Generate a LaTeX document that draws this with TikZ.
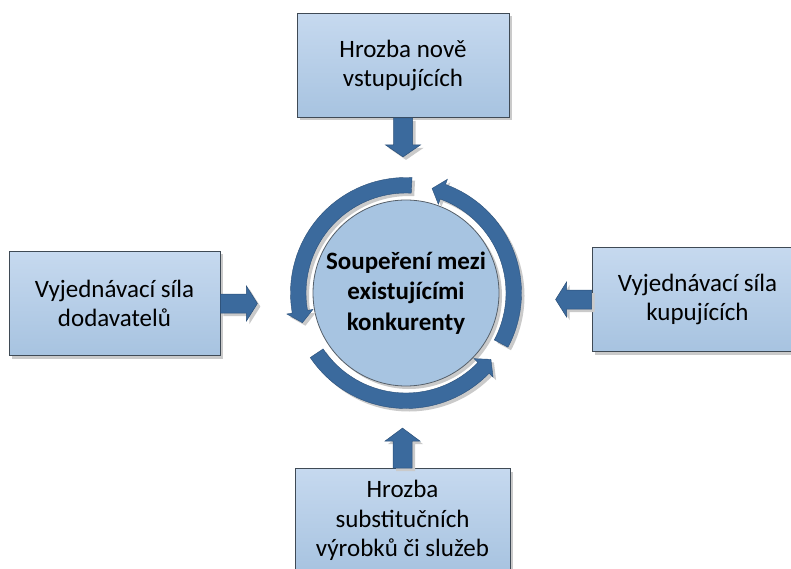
\documentclass[tikz,border=0pt]{standalone}
\usepackage{fontspec}
\setmainfont{Carlito}
\usetikzlibrary{shadows}
\definecolor{boxtop}{HTML}{C6D9EF}
\definecolor{boxbot}{HTML}{A7C3E0}
\definecolor{boxline}{HTML}{3F4A55}
\definecolor{arrowblue}{HTML}{3B6A9D}
\definecolor{arrowedge}{HTML}{2B5079}
\definecolor{circfill}{HTML}{A7C4E1}
\definecolor{circline}{HTML}{56606A}
\definecolor{shadowgray}{HTML}{CACACA}
\begin{document}
\begin{tikzpicture}[x=1pt,y=1pt,
  softshadow/.style={drop shadow={shadow xshift=3pt,shadow yshift=-3pt,fill=shadowgray,opacity=1}},
  box/.style={rectangle, draw=boxline, line width=0.8pt, top color=boxtop, bottom color=boxbot,
    minimum width=212pt, minimum height=104pt, inner sep=0pt, align=center,
    font=\fontsize{25}{29.5}\selectfont, text=black, softshadow},
  core/.style={circle, draw=circline, line width=0.8pt, fill=circfill, minimum size=186pt,
    inner sep=0pt, align=center, font=\fontsize{25}{30.5}\selectfont\bfseries, text=black, softshadow},
  blockarrow/.style={fill=arrowblue, draw=arrowedge, line width=0.5pt, softshadow},
  ringarrow/.style={fill=arrowblue, draw=arrowedge, line width=0.4pt, softshadow}]
\useasboundingbox (0,0) rectangle (791,568);
\fill[white] (0,0) rectangle (791,568);
\clip (0,0) rectangle (791,568);

% boxes
\node[box] (new) at (403,502.5) {Hrozba nově\\vstupujících};
\node[box, minimum width=211pt] (sup) at (114.5,264.5) {Vyjednávací síla\\dodavatelů};
\node[box, minimum width=211pt] (buy) at (697.5,268.5) {Vyjednávací síla\\kupujících};
\node[box, minimum width=215pt] (sub) at (402.5,47.5) {Hrozba\\substitučních\\výrobků či služeb};

% centre circle
\node[core] (core) at (406,275) {Soupeření mezi\\existujícími\\konkurenty};

% ring of three curved arrows
\begin{scope}[shift={(core.center)}]
\foreach \a/\b/\c in {87/190/196,214/316/322,332/430/436}{
  \fill[ringarrow] (\a:115.5) arc[start angle=\a,end angle=\b,radius=115.5]
    -- (\b:121) -- (\c:107.75) -- (\b:94.5) -- (\b:100)
    arc[start angle=\b,end angle=\a,radius=100] -- cycle;
}
\end{scope}

% block arrows
\fill[blockarrow] ([xshift=-9.5pt]new.south) -- ([xshift=-9.5pt,yshift=-27pt]new.south)
  -- ([xshift=-17.5pt,yshift=-27pt]new.south) -- ([yshift=-39pt]new.south)
  -- ([xshift=17.5pt,yshift=-27pt]new.south) -- ([xshift=9.5pt,yshift=-27pt]new.south)
  -- ([xshift=9.5pt]new.south) -- cycle;
\fill[blockarrow] ([xshift=-9.5pt]sub.north) -- ([xshift=-9.5pt,yshift=27pt]sub.north)
  -- ([xshift=-17.5pt,yshift=27pt]sub.north) -- ([yshift=40pt]sub.north)
  -- ([xshift=17.5pt,yshift=27pt]sub.north) -- ([xshift=9.5pt,yshift=27pt]sub.north)
  -- ([xshift=9.5pt]sub.north) -- cycle;
\fill[blockarrow] ([yshift=9.5pt]sup.east) -- ([xshift=26pt,yshift=9.5pt]sup.east)
  -- ([xshift=26pt,yshift=17.5pt]sup.east) -- ([xshift=37pt]sup.east)
  -- ([xshift=26pt,yshift=-17.5pt]sup.east) -- ([xshift=26pt,yshift=-9.5pt]sup.east)
  -- ([yshift=-9.5pt]sup.east) -- cycle;
\fill[blockarrow] ([yshift=9.5pt]buy.west) -- ([xshift=-25pt,yshift=9.5pt]buy.west)
  -- ([xshift=-25pt,yshift=17.5pt]buy.west) -- ([xshift=-36pt]buy.west)
  -- ([xshift=-25pt,yshift=-17.5pt]buy.west) -- ([xshift=-25pt,yshift=-9.5pt]buy.west)
  -- ([yshift=-9.5pt]buy.west) -- cycle;
\end{tikzpicture}
\end{document}
